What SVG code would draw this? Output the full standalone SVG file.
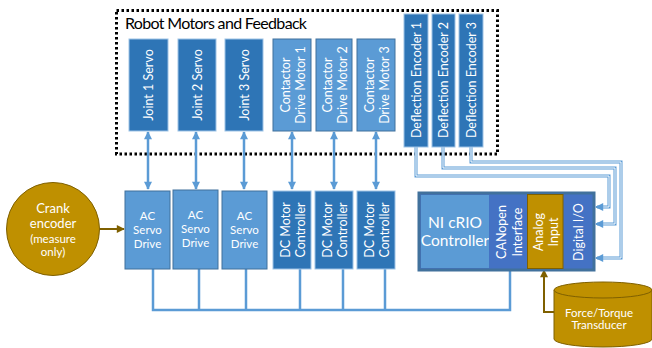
<svg xmlns="http://www.w3.org/2000/svg" width="652" height="348" viewBox="0 0 652 348">
<defs>
<marker id="ab" viewBox="0 0 10 10" refX="9" refY="5" markerWidth="9" markerHeight="8" markerUnits="userSpaceOnUse" orient="auto-start-reverse"><path d="M0,0 L10,5 L0,10 z" fill="#5B9BD5"/></marker>
<marker id="ag" viewBox="0 0 10 10" refX="9" refY="5" markerWidth="9" markerHeight="8" markerUnits="userSpaceOnUse" orient="auto"><path d="M0,0 L10,5 L0,10 z" fill="#7F6000"/></marker>
<style>
.t{font-family:Lato,"Open Sans","Liberation Sans",sans-serif;fill:#fff;}
.dk{fill:#2E75B6;stroke:#9DC3E6;stroke-width:1;}
.lt{fill:#5B9BD5;stroke:#41719C;stroke-width:1;}
.ln{fill:none;stroke:#5B9BD5;stroke-width:2.5;}
.dl{fill:none;stroke:#5B9BD5;stroke-width:3;}
.dw{fill:none;stroke:#fff;stroke-width:1;}
.r{font-size:12.5px;text-anchor:middle;dominant-baseline:central;}
.ac{font-size:11.5px;text-anchor:middle;}
</style>
</defs>
<rect id="robot-group" x="116.5" y="10.5" width="381" height="143.5" fill="none" stroke="#000" stroke-width="3" stroke-dasharray="2.5 2.5"/>
<text class="t" x="125" y="29" font-size="16" style="fill:#000" textLength="182">Robot Motors and Feedback</text>

<g id="connectors">
<line class="ln" x1="148" y1="132" x2="148" y2="189" marker-start="url(#ab)" marker-end="url(#ab)"/>
<line class="ln" x1="196" y1="132" x2="196" y2="189" marker-start="url(#ab)" marker-end="url(#ab)"/>
<line class="ln" x1="244" y1="132" x2="244" y2="189" marker-start="url(#ab)" marker-end="url(#ab)"/>
<line class="ln" x1="292" y1="132" x2="292" y2="189" marker-start="url(#ab)" marker-end="url(#ab)"/>
<line class="ln" x1="334" y1="132" x2="334" y2="189" marker-start="url(#ab)" marker-end="url(#ab)"/>
<line class="ln" x1="376" y1="132" x2="376" y2="189" marker-start="url(#ab)" marker-end="url(#ab)"/>
<path class="ln" d="M153,269 V310 H510 V271 M199,269 V310 M246,269 V310 M300,269 V310 M343,269 V310 M385,269 V310"/>
<path class="dl" d="M416,147 V176 H609 V207 H597"/>
<path class="dw" d="M416,147 V176 H609 V207 H603"/>
<path class="dl" d="M443,147 V168 H615 V224 H597"/>
<path class="dw" d="M443,147 V168 H615 V224 H603"/>
<path class="dl" d="M471,147 V162 H621 V258 H597"/>
<path class="dw" d="M471,147 V162 H621 V258 H603"/>
<path d="M603,207 H596" stroke="#5B9BD5" stroke-width="2" marker-end="url(#ab)"/>
<path d="M603,224 H596" stroke="#5B9BD5" stroke-width="2" marker-end="url(#ab)"/>
<path d="M603,258 H596" stroke="#5B9BD5" stroke-width="2" marker-end="url(#ab)"/>
<line x1="100" y1="229" x2="124" y2="229" stroke="#7F6000" stroke-width="2" marker-end="url(#ag)"/>
<path d="M554,312 H544 V270" fill="none" stroke="#7F6000" stroke-width="2" marker-end="url(#ag)"/>
</g>

<g id="joint1"><rect class="dk" x="129" y="39" width="39" height="92"/><text class="t r" transform="translate(148.5,85) rotate(-90)">Joint 1 Servo</text></g>
<g id="joint2"><rect class="dk" x="178" y="39" width="38" height="92"/><text class="t r" transform="translate(197,85) rotate(-90)">Joint 2 Servo</text></g>
<g id="joint3"><rect class="dk" x="225" y="39" width="38" height="92"/><text class="t r" transform="translate(244,85) rotate(-90)">Joint 3 Servo</text></g>
<g id="contactor1"><rect class="lt" x="273" y="39" width="38" height="92"/><text class="t r" transform="translate(285,85) rotate(-90)">Contactor</text><text class="t r" transform="translate(300,85) rotate(-90)">Drive Motor 1</text></g>
<g id="contactor2"><rect class="lt" x="316" y="39" width="36" height="92"/><text class="t r" transform="translate(327,85) rotate(-90)">Contactor</text><text class="t r" transform="translate(342,85) rotate(-90)">Drive Motor 2</text></g>
<g id="contactor3"><rect class="lt" x="357" y="39" width="38" height="92"/><text class="t r" transform="translate(369,85) rotate(-90)">Contactor</text><text class="t r" transform="translate(384,85) rotate(-90)">Drive Motor 3</text></g>
<g id="enc1"><rect class="dk" x="404" y="14" width="24" height="133"/><text class="t r" transform="translate(416,80) rotate(-90)">Deflection Encoder 1</text></g>
<g id="enc2"><rect class="dk" x="432" y="14" width="23" height="133"/><text class="t r" transform="translate(443.5,80) rotate(-90)">Deflection Encoder 2</text></g>
<g id="enc3"><rect class="dk" x="459" y="14" width="24" height="133"/><text class="t r" transform="translate(471,80) rotate(-90)">Deflection Encoder 3</text></g>

<g id="crank"><circle cx="53" cy="229" r="46.5" fill="#BF9000" stroke="#7F6000" stroke-width="1"/>
<text class="t" text-anchor="middle" x="53" y="213" font-size="13">Crank</text>
<text class="t" text-anchor="middle" x="53" y="228" font-size="13">encoder</text>
<text class="t" text-anchor="middle" x="53" y="243" font-size="11.5">(measure</text>
<text class="t" text-anchor="middle" x="53" y="256" font-size="11.5">only)</text></g>

<g id="ac1"><rect class="lt" x="125" y="191" width="45" height="78"/><text class="t ac" x="147.5" y="220">AC</text><text class="t ac" x="147.5" y="234">Servo</text><text class="t ac" x="147.5" y="248">Drive</text></g>
<g id="ac2"><rect class="lt" x="173" y="190" width="45" height="79"/><text class="t ac" x="195.5" y="219">AC</text><text class="t ac" x="195.5" y="233">Servo</text><text class="t ac" x="195.5" y="247">Drive</text></g>
<g id="ac3"><rect class="lt" x="222" y="191" width="45" height="78"/><text class="t ac" x="244.5" y="220">AC</text><text class="t ac" x="244.5" y="234">Servo</text><text class="t ac" x="244.5" y="248">Drive</text></g>

<g id="dc1"><rect class="dk" x="273" y="191" width="38" height="78"/><text class="t r" transform="translate(285,230) rotate(-90)">DC Motor</text><text class="t r" transform="translate(300,230) rotate(-90)">Controller</text></g>
<g id="dc2"><rect class="dk" x="315" y="191" width="38" height="78"/><text class="t r" transform="translate(327,230) rotate(-90)">DC Motor</text><text class="t r" transform="translate(342,230) rotate(-90)">Controller</text></g>
<g id="dc3"><rect class="dk" x="357" y="191" width="38" height="78"/><text class="t r" transform="translate(369,230) rotate(-90)">DC Motor</text><text class="t r" transform="translate(384,230) rotate(-90)">Controller</text></g>

<g id="crio">
<rect x="419" y="193" width="175" height="77" fill="#4472C4" stroke="#41719C" stroke-width="3"/>
<rect x="421" y="195" width="68" height="73" fill="#5B9BD5"/>
<text class="t" text-anchor="middle" font-size="15.5"><tspan x="455" y="228">NI cRIO</tspan><tspan x="455" y="246">Controller</tspan></text>
<rect x="489" y="195" width="38" height="73" fill="#4472C4"/>
<text class="t r" transform="translate(501,232) rotate(-90)">CANopen</text><text class="t r" transform="translate(517,232) rotate(-90)">Interface</text>
<rect x="527.5" y="194.5" width="35.5" height="74" fill="#BF9000" stroke="#7F6000" stroke-width="1"/>
<text class="t r" transform="translate(538,232) rotate(-90)">Analog</text><text class="t r" transform="translate(553,232) rotate(-90)">Input</text>
<text class="t r" transform="translate(578,232) rotate(-90)">Digital I/O</text>
</g>

<g id="transducer">
<path d="M554,290 V339 A49,8 0 0 0 652,339 V290" fill="#BF9000" stroke="#7F6000" stroke-width="1"/>
<ellipse cx="603" cy="290" rx="49" ry="8" fill="#BF9000" stroke="#7F6000" stroke-width="1"/>
<text class="t" text-anchor="middle" font-size="11.5"><tspan x="599" y="317">Force/Torque</tspan><tspan x="599" y="329">Transducer</tspan></text>
</g>
</svg>
